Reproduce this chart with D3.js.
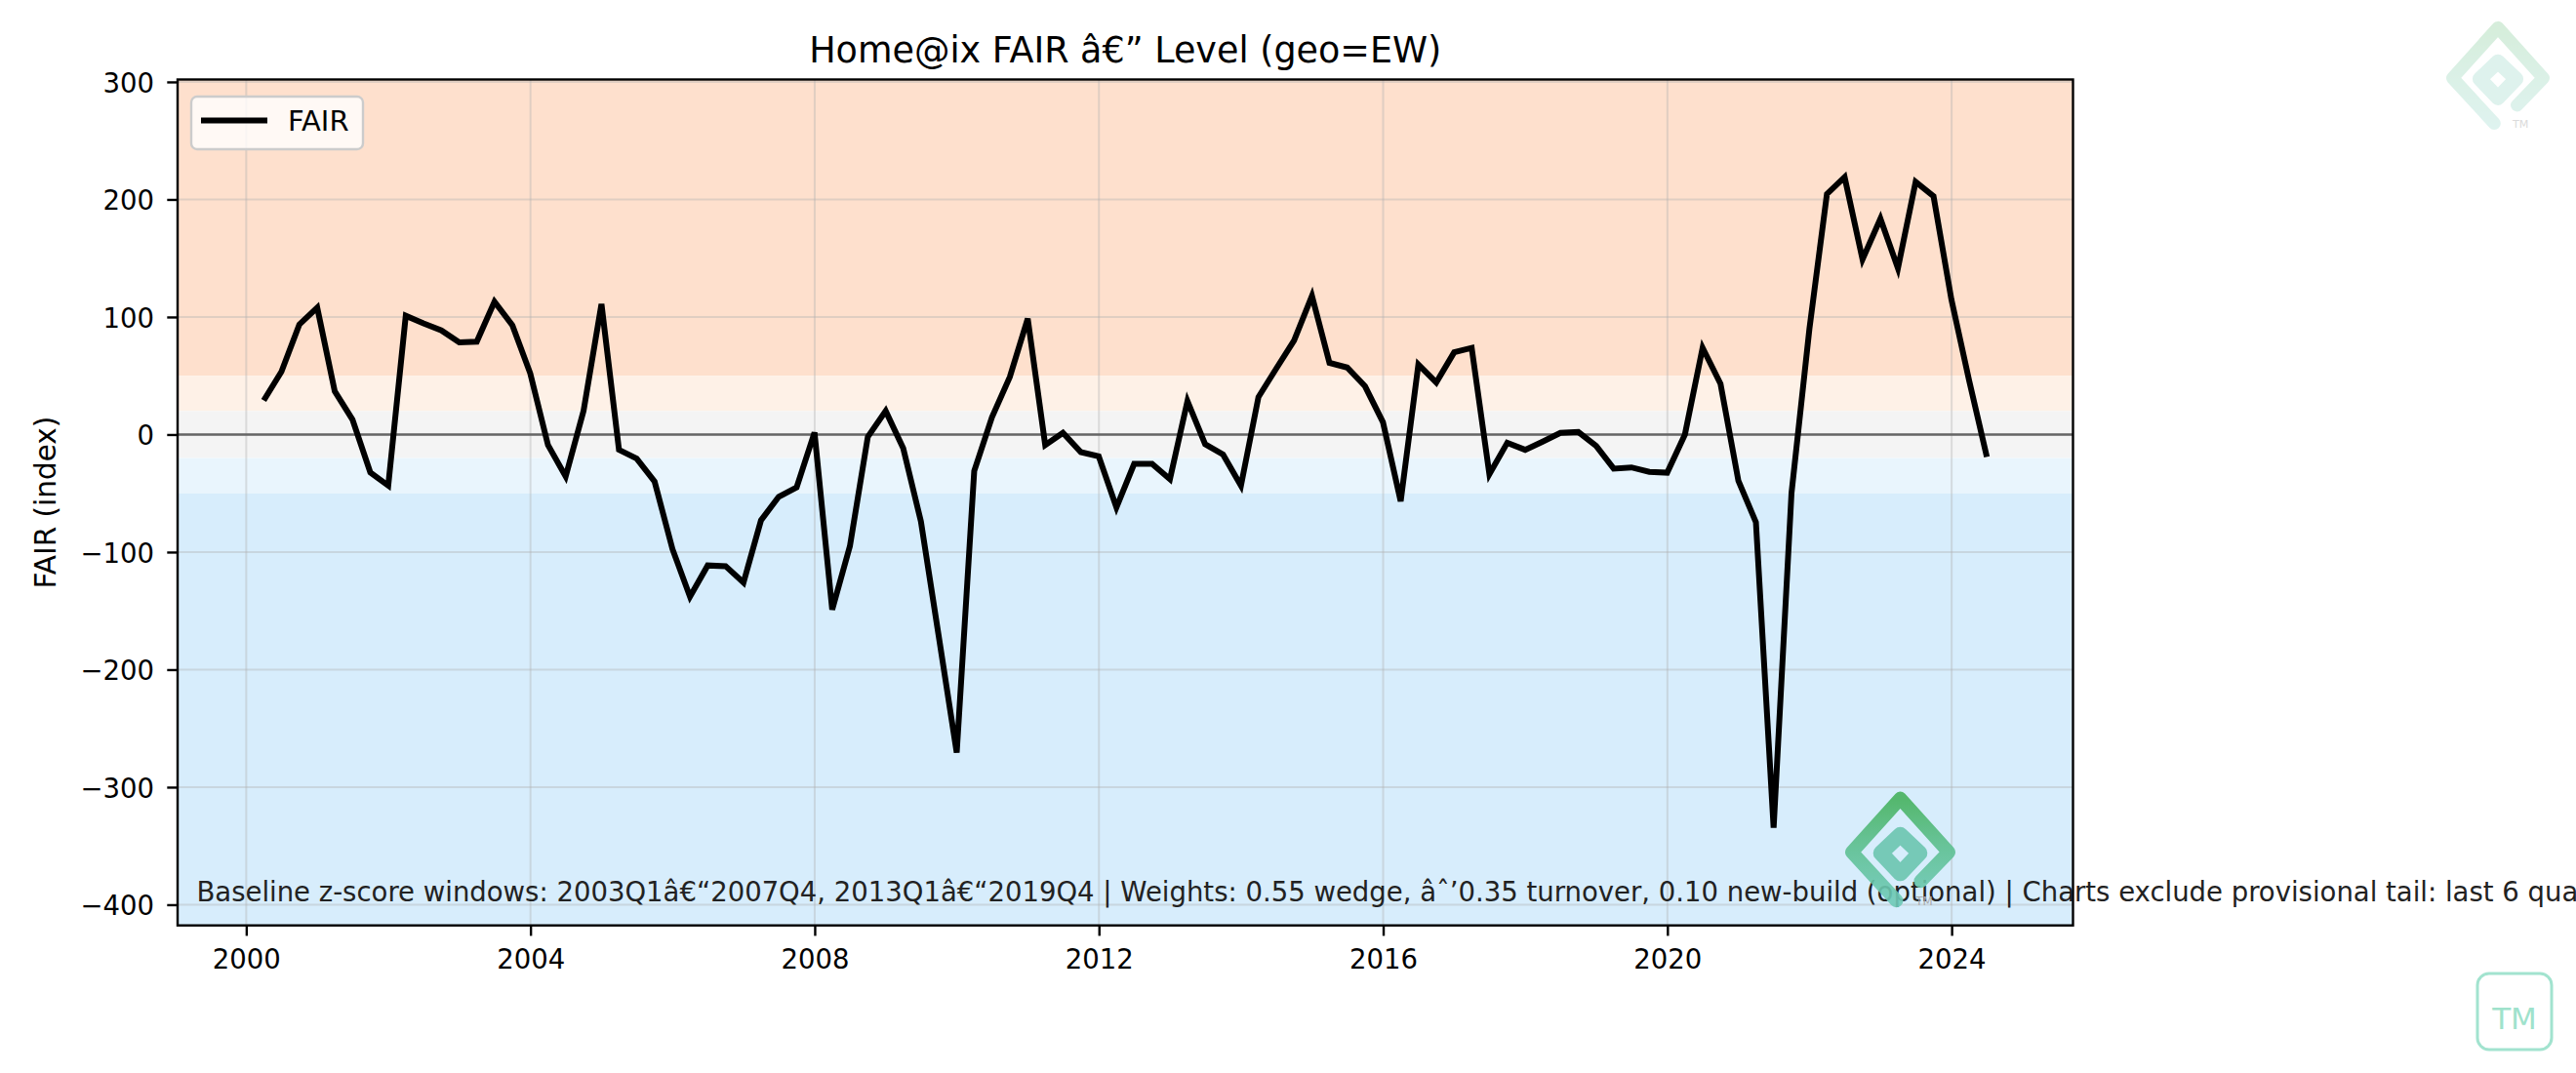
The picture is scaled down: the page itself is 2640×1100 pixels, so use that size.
<!DOCTYPE html>
<html>
<head>
<meta charset="utf-8">
<script src="https://cdn.jsdelivr.net/npm/d3@7.9.0/dist/d3.min.js"></script>
<style>
  html, body { margin: 0; padding: 0; background: #fff; }
  svg { display: block; font-family: 'DejaVu Sans', sans-serif; }
</style>
</head>
<body>
<svg id="chart" width="2640" height="1100"></svg>
<script>
// Quarterly FAIR index, 2000Q1 .. 2024Q2
const quarterLabels = [
  '2000Q1','2000Q2','2000Q3','2000Q4','2001Q1','2001Q2','2001Q3','2001Q4',
  '2002Q1','2002Q2','2002Q3','2002Q4','2003Q1','2003Q2','2003Q3','2003Q4',
  '2004Q1','2004Q2','2004Q3','2004Q4','2005Q1','2005Q2','2005Q3','2005Q4',
  '2006Q1','2006Q2','2006Q3','2006Q4','2007Q1','2007Q2','2007Q3','2007Q4',
  '2008Q1','2008Q2','2008Q3','2008Q4','2009Q1','2009Q2','2009Q3','2009Q4',
  '2010Q1','2010Q2','2010Q3','2010Q4','2011Q1','2011Q2','2011Q3','2011Q4',
  '2012Q1','2012Q2','2012Q3','2012Q4','2013Q1','2013Q2','2013Q3','2013Q4',
  '2014Q1','2014Q2','2014Q3','2014Q4','2015Q1','2015Q2','2015Q3','2015Q4',
  '2016Q1','2016Q2','2016Q3','2016Q4','2017Q1','2017Q2','2017Q3','2017Q4',
  '2018Q1','2018Q2','2018Q3','2018Q4','2019Q1','2019Q2','2019Q3','2019Q4',
  '2020Q1','2020Q2','2020Q3','2020Q4','2021Q1','2021Q2','2021Q3','2021Q4',
  '2022Q1','2022Q2','2022Q3','2022Q4','2023Q1','2023Q2','2023Q3','2023Q4',
  '2024Q1','2024Q2'
];

const fairValues = [
  29, 53.5, 93.6, 108,       36.8, 12.7, -32.4, -43.5,
  101, 94.5, 88.6, 78.4,     79, 113, 93, 52,
  -8.9, -35.7, 20.2, 111,    -13, -20.5, -40, -97.5,
  -138, -111.4, -112, -126,  -73, -53, -45, 1.7,
  -149, -95, -2, 20,         -11.6, -74, -172, -270.6,
  -31, 14.7, 49, 98.6,       -8.9, 1.4, -15, -18.6,
  -62, -25, -25, -38,        28.5, -8.3, -17, -43.5,
  31.9, 56, 80, 118,         61, 57, 41, 10.5,
  -56.8, 59.6, 44.3, 70,     73.7, -33.8, -7, -13,
  -6, 1.4, 2.2, -9.7,        -29, -28, -31.7, -32.5,
  0, 73.8, 43.2, -39.4,      -74.6, -334.6, -49.7, 89.9,
  204.6, 219, 149, 183.6,    141.5, 215, 202.7, 114.7,
  45.9, -19
];

// Shaded regimes behind the line
const bandEdges = [50, 20, -20, -50];
const bandColors = ['#fee0cd', '#fef1e7', '#f4f4f4', '#e9f5fd', '#d7edfc'];

const yTicks = [-400, -300, -200, -100, 0, 100, 200, 300];
const xTickYears = [2000, 2004, 2008, 2012, 2016, 2020, 2024];

const titleText = 'Home@ix FAIR \u00e2\u20ac\u201d Level (geo=EW)';
const yLabelText = 'FAIR (index)';
const legendLabel = 'FAIR';
const footnoteText = 'Baseline z-score windows: 2003Q1\u00e2\u20ac\u201c2007Q4, 2013Q1\u00e2\u20ac\u201c2019Q4 | Weights: 0.55 wedge, \u00e2\u02c6\u20190.35 turnover, 0.10 new-build (optional) | Charts exclude provisional tail: last 6 quarters';

// Turn "YYYYQn" into the quarter end date
function quarterEnd(label) {
  let year = +label.slice(0, 4);
  let q = +label.slice(5);
  return new Date(year, q * 3, 0);
}

const data = quarterLabels.map((q, i) => ({ date: quarterEnd(q), value: fairValues[i] }));

const svg = d3.select('#chart');
const plot = { left: 182, right: 2124.5, top: 81.5, bottom: 948.7 };
const tickFont = 27.5;

// x: 5% margin each side like matplotlib
let xExtent = d3.extent(data, d => d.date);
let span = xExtent[1] - xExtent[0];
let x = d3.scaleTime()
  .domain([new Date(+xExtent[0] - span * 0.05), new Date(+xExtent[1] + span * 0.05)])
  .range([plot.left, plot.right]);

// y: 15% padding of the data range
let yExtent = d3.extent(fairValues);
let yPad = (yExtent[1] - yExtent[0]) * 0.15;
let y = d3.scaleLinear()
  .domain([yExtent[0] - yPad, yExtent[1] + yPad])
  .range([plot.bottom, plot.top]);

const pw = plot.right - plot.left;

// Bands
let edges = [y.domain()[1], ...bandEdges, y.domain()[0]];
svg.append('g').selectAll('rect')
  .data(bandColors)
  .join('rect')
  .attr('x', plot.left)
  .attr('width', pw)
  .attr('y', (d, i) => y(edges[i]))
  .attr('height', (d, i) => y(edges[i + 1]) - y(edges[i]))
  .attr('fill', d => d);

// Grid
let grid = svg.append('g').attr('stroke', '#b0b0b0').attr('stroke-opacity', 0.38).attr('stroke-width', 2);
grid.selectAll('.gx')
  .data(xTickYears)
  .join('line')
  .attr('x1', d => x(new Date(d, 0, 1)))
  .attr('x2', d => x(new Date(d, 0, 1)))
  .attr('y1', plot.top)
  .attr('y2', plot.bottom);
grid.selectAll('.gy')
  .data(yTicks)
  .join('line')
  .attr('x1', plot.left)
  .attr('x2', plot.right)
  .attr('y1', d => y(d))
  .attr('y2', d => y(d));

// Zero line
svg.append('line')
  .attr('x1', plot.left).attr('x2', plot.right)
  .attr('y1', y(0)).attr('y2', y(0))
  .attr('stroke', '#666').attr('stroke-width', 2.6);

// FAIR line
let line = d3.line().x(d => x(d.date)).y(d => y(d.value));
svg.append('path')
  .datum(data)
  .attr('d', line)
  .attr('fill', 'none')
  .attr('stroke', '#000')
  .attr('stroke-width', 6)
  .attr('stroke-linejoin', 'miter')
  .attr('stroke-miterlimit', 4);

// Footnote (runs past the axes, clipped by the figure)
svg.append('text')
  .attr('x', plot.left + pw * 0.01)
  .attr('y', 924)
  .attr('font-size', tickFont)
  .attr('fill', '#222')
  .text(footnoteText);

// Logo mark: outer chevron + inner ring, gradient green -> teal
let defs = svg.append('defs');
let grad = defs.append('linearGradient')
  .attr('id', 'logoGrad')
  .attr('x1', 0).attr('y1', 0).attr('x2', 0).attr('y2', 1);
grad.append('stop').attr('offset', '0%').attr('stop-color', '#47b25e');
grad.append('stop').attr('offset', '45%').attr('stop-color', '#5cbf8e');
grad.append('stop').attr('offset', '100%').attr('stop-color', '#6fcab8');

function drawLogo(cx, cy, w, opacity) {
  let g = svg.append('g')
    .attr('transform', `translate(${cx},${cy}) scale(${w})`)
    .attr('opacity', opacity);
  let outer = [[-0.08, 1.0], [-1.0, 0], [0, -1.11], [1.0, 0], [0.42, 0.6]];
  let ring = [[0, -0.36], [0.4, 0.02], [0, 0.44], [-0.4, 0.02]];
  g.append('path')
    .attr('d', d3.line()(outer))
    .attr('fill', 'none')
    .attr('stroke', 'url(#logoGrad)')
    .attr('stroke-width', 0.28)
    .attr('stroke-linejoin', 'round')
    .attr('stroke-linecap', 'round');
  g.append('path')
    .attr('d', d3.line()(ring) + 'Z')
    .attr('fill', 'none')
    .attr('stroke', '#6cc6b0')
    .attr('stroke-width', 0.32)
    .attr('stroke-linejoin', 'round');
  svg.append('text')
    .attr('x', cx + w * 0.32)
    .attr('y', cy + w * 1.1)
    .attr('font-size', w * 0.24)
    .attr('fill', '#aaa')
    .attr('opacity', opacity + 0.2)
    .text('TM');
}

drawLogo(1947.5, 873.6, 49.6, 0.9);
drawLogo(2560, 80, 46.5, 0.22);

// TM badge bottom right
svg.append('rect')
  .attr('x', 2539).attr('y', 998)
  .attr('width', 76).attr('height', 78)
  .attr('rx', 12)
  .attr('fill', 'none')
  .attr('stroke', '#a2e3cf')
  .attr('stroke-width', 3);
svg.append('text')
  .attr('x', 2577).attr('y', 1055)
  .attr('text-anchor', 'middle')
  .attr('font-size', 31)
  .attr('fill', '#9fe2cc')
  .text('TM');

// Axes
let xAxis = d3.axisBottom(x)
  .tickValues(xTickYears.map(yr => new Date(yr, 0, 1)))
  .tickFormat(d3.timeFormat('%Y'))
  .tickSize(10.7)
  .tickPadding(10.7);
let gx = svg.append('g')
  .attr('transform', `translate(0,${plot.bottom})`)
  .call(xAxis);

let yAxis = d3.axisLeft(y)
  .tickValues(yTicks)
  .tickFormat(d3.format('d'))
  .tickSize(10.7)
  .tickPadding(13.3);
let gy = svg.append('g')
  .attr('transform', `translate(${plot.left},0)`)
  .call(yAxis);

[gx, gy].forEach(g => {
  g.select('.domain').remove();
  g.selectAll('.tick line').attr('stroke', '#000').attr('stroke-width', 2.4);
  g.selectAll('.tick text')
    .attr('font-size', tickFont)
    .attr('font-family', 'DejaVu Sans')
    .attr('fill', '#000');
});
gy.selectAll('.tick text').attr('dy', '0.37em');
gx.selectAll('.tick text').attr('y', 44).attr('dy', 0);

// Spines
svg.append('rect')
  .attr('x', plot.left).attr('y', plot.top)
  .attr('width', pw).attr('height', plot.bottom - plot.top)
  .attr('fill', 'none')
  .attr('stroke', '#000')
  .attr('stroke-width', 2.4);

// Title and y label
svg.append('text')
  .attr('x', (plot.left + plot.right) / 2)
  .attr('y', 64)
  .attr('text-anchor', 'middle')
  .attr('font-size', 36.5)
  .text(titleText);

svg.append('text')
  .attr('transform', `translate(57,${(plot.top + plot.bottom) / 2}) rotate(-90)`)
  .attr('text-anchor', 'middle')
  .attr('font-size', 29.5)
  .text(yLabelText);

// Legend
let legend = svg.append('g').attr('transform', 'translate(196,99)');
legend.append('rect')
  .attr('width', 176).attr('height', 54)
  .attr('rx', 6)
  .attr('fill', '#fff').attr('fill-opacity', 0.8)
  .attr('stroke', '#ccc').attr('stroke-width', 2.4);
legend.append('line')
  .attr('x1', 10).attr('x2', 78)
  .attr('y1', 24.5).attr('y2', 24.5)
  .attr('stroke', '#000').attr('stroke-width', 6);
legend.append('text')
  .attr('x', 99).attr('y', 34.5)
  .attr('font-size', 29)
  .text(legendLabel);
</script>
</body>
</html>
